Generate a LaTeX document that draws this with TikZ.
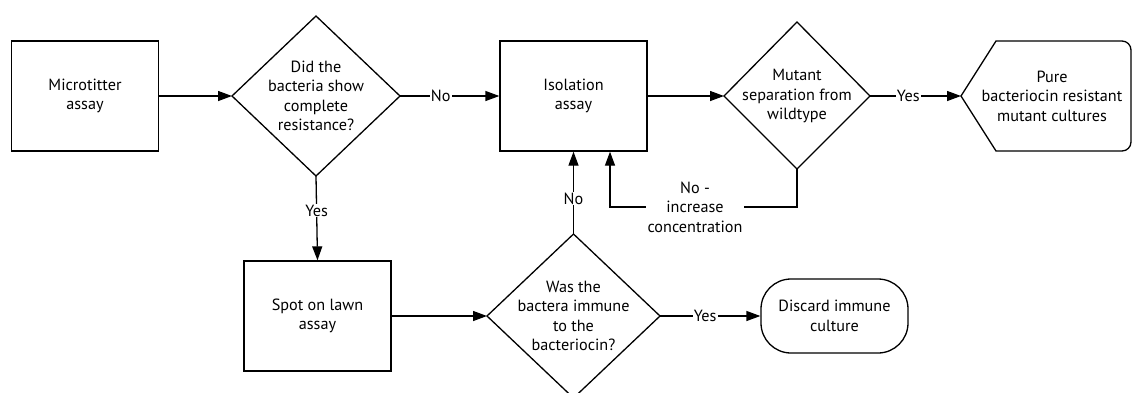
\documentclass[tikz,border=0pt]{standalone}
\usepackage{fontspec}
\setmainfont{PT Sans}
\usetikzlibrary{arrows.meta,calc}
\begin{document}
\begin{tikzpicture}[x=1pt,y=1pt,
  every node/.style={font=\fontsize{16.2}{19.5}\selectfont, align=center},
  box/.style={draw, line width=1.3pt, minimum width=147pt, minimum height=110pt, inner sep=0pt},
  txt/.style={inner sep=0pt},
  shp/.style={draw, line width=1.3pt, line join=miter},
  arr/.style={line width=1.3pt, -{Triangle[length=14pt,width=10pt]}},
  lab/.style={fill=white, inner sep=1pt}
]
\useasboundingbox (0,0) rectangle (1133,-392);

% boxes
\node[box] (m) at (85,-96) {Microtitter\\assay};
\node[box] (iso) at (573.5,-96) {Isolation\\assay};
\node[box] (spot) at (317.5,-316) {Spot on lawn\\assay};
\node[box, minimum height=74pt, rounded corners=30pt] (dis) at (834.5,-316) {Discard immune\\culture};

% diamond 1
\node[txt] (d1) at (316,-96) {Did the\\bacteria show\\complete\\resistance?};
\coordinate (d1w) at (232,-96); \coordinate (d1e) at (400,-96);
\coordinate (d1n) at (316,-16); \coordinate (d1s) at (316,-176);
\draw[shp] (d1w) -- (d1n) -- (d1e) -- (d1s) -- cycle;

% diamond 2
\node[txt] (d2) at (797,-96) {Mutant\\separation from\\wildtype};
\coordinate (d2w) at (724,-96); \coordinate (d2e) at (870,-96);
\coordinate (d2n) at (797,-22); \coordinate (d2s) at (797,-169);
\draw[shp] (d2w) -- (d2n) -- (d2e) -- (d2s) -- cycle;

% diamond 3
\node[txt] (d3) at (573.5,-316) {Was the\\bactera immune\\to the\\bacteriocin?};
\coordinate (d3w) at (487,-316); \coordinate (d3e) at (660,-316);
\coordinate (d3n) at (573.5,-234); \coordinate (d3s) at (573.5,-398);
\draw[shp] (d3w) -- (d3n) -- (d3e) -- (d3s) -- cycle;

% display shape
\node[txt] (pure) at (1052,-96) {Pure\\bacteriocin resistant\\mutant cultures};
\coordinate (pw) at (961,-96);
\draw[shp] (pw) -- (996,-41) -- (1122,-41) arc[start angle=90,end angle=0,radius=9]
  -- (1131,-142) arc[start angle=0,end angle=-90,radius=9] -- (996,-151) -- cycle;

% connectors
\draw[arr] (m.east) -- (d1w);
\draw[arr] (d1e) -- node[lab, pos=0.41]{No} (iso.west);
\draw[arr] (iso.east) -- (d2w);
\draw[arr] (d2e) -- node[lab, pos=0.42]{Yes} (pw);
\draw[arr] (d1s) -- node[lab, pos=0.41]{Yes} (spot.north);
\draw[arr] (spot.east) -- (d3w);
\draw[arr] (d3n) -- node[lab, pos=0.43]{No} (iso.south);
\draw[arr] (d3e) -- node[lab, pos=0.45]{Yes} (dis.west);

\node[inner sep=1.5pt] (inc) at (695,-207) {No -\\increase\\concentration};
\coordinate (isob) at ($(iso.south)+(36.5,0)$);
\draw[line width=1.3pt] (d2s) |- (inc.east);
\draw[arr] (inc.west) -| (isob);
\end{tikzpicture}
\end{document}
